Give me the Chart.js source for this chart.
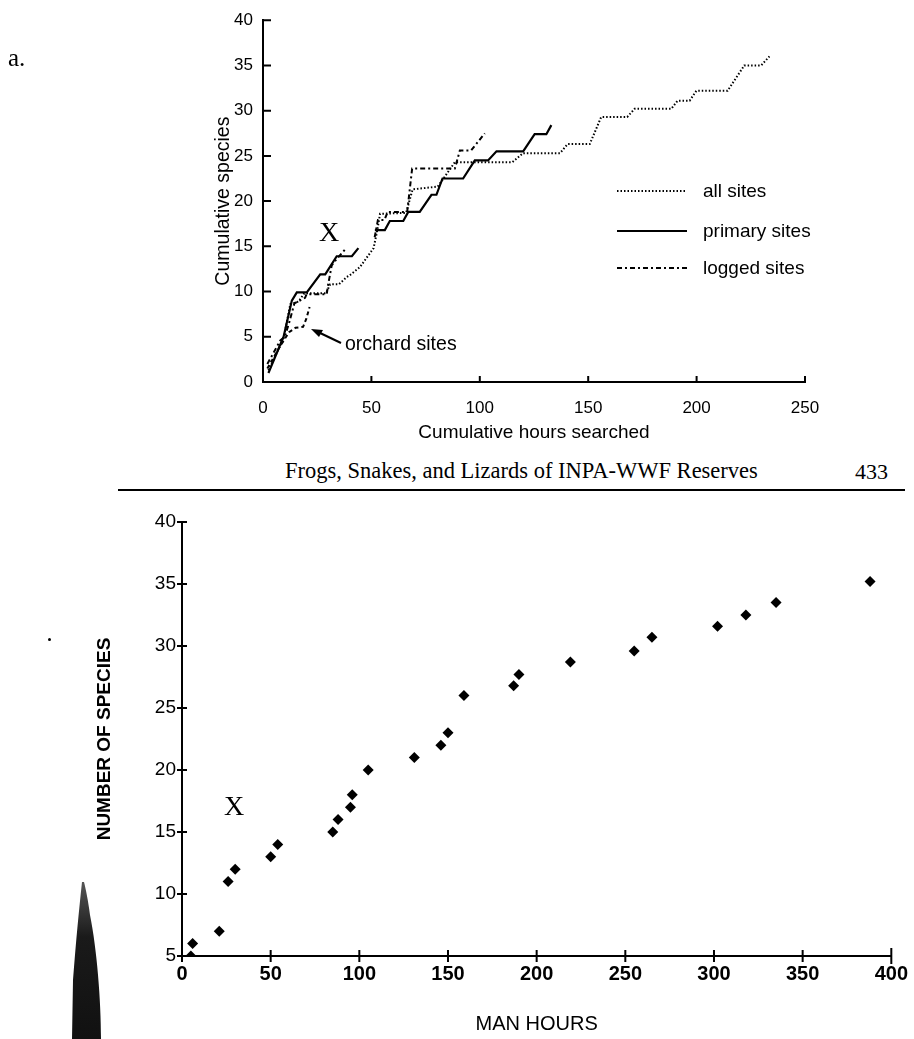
<!DOCTYPE html>
<html><head><meta charset="utf-8">
<script src="https://cdn.jsdelivr.net/npm/chart.js@4.4.1/dist/chart.umd.min.js"></script>
<style>
html,body{margin:0;padding:0;background:#fff;}
body{width:914px;height:1039px;position:relative;overflow:hidden;font-family:"Liberation Sans",Arial,sans-serif;color:#000;}
.abs{position:absolute;white-space:nowrap;line-height:1;}
.serif{font-family:"Liberation Serif","Times New Roman",serif;}
#c1{position:absolute;left:0;top:0;}
#c2{position:absolute;left:0;top:490px;}
</style></head><body>
<canvas id="c1" width="914" height="450"></canvas>
<canvas id="c2" width="914" height="549"></canvas>

<div class="abs serif" style="left:8px;top:45px;font-size:25px;">a.</div>
<div class="abs serif" style="left:319px;top:218px;font-size:28px;">X</div>
<div class="abs" style="left:345px;top:334px;font-size:19.5px;">orchard sites</div>
<svg class="abs" style="left:0;top:0;" width="914" height="450">
  <line x1="341" y1="343" x2="318" y2="332" stroke="#000" stroke-width="2"/>
  <polygon points="311,329 323,330 319,337" fill="#000"/>
  <line x1="617" y1="191" x2="687" y2="191" stroke="#000" stroke-width="2" stroke-dasharray="1.5,2"/>
  <line x1="617" y1="231" x2="687" y2="231" stroke="#000" stroke-width="2"/>
  <line x1="617" y1="268" x2="687" y2="268" stroke="#000" stroke-width="2" stroke-dasharray="5,3,2,3"/>
</svg>
<div class="abs" style="left:703px;top:181px;font-size:19px;">all sites</div>
<div class="abs" style="left:703px;top:221px;font-size:19px;">primary sites</div>
<div class="abs" style="left:703px;top:258px;font-size:19px;">logged sites</div>

<div class="abs serif" style="left:285px;top:460px;font-size:22.5px;">Frogs, Snakes, and Lizards of INPA-WWF Reserves</div>
<div class="abs serif" style="left:855px;top:461px;font-size:22px;">433</div>
<div class="abs" style="left:118px;top:489px;width:787px;height:2px;background:#000;"></div>
<div class="abs" style="left:48px;top:638px;width:3px;height:3px;background:#000;border-radius:50%;"></div>
<div class="abs serif" style="left:224px;top:792px;font-size:28px;">X</div>
<svg class="abs" style="left:0;top:860px;" width="120" height="179">
  <defs><linearGradient id="sm" x1="0" y1="0" x2="0" y2="1">
    <stop offset="0" stop-color="#555"/><stop offset="0.35" stop-color="#1a1a1a"/><stop offset="1" stop-color="#111"/>
  </linearGradient></defs>
  <path d="M82,22 C79,50 76,80 73,120 L72,179 L101,179 C101,140 97,90 90,55 C88,40 86,30 84,22 Z" fill="url(#sm)"/>
</svg>

<script>
// ---------- data (top chart: a.) ----------
const topXTicks = [0, 50, 100, 150, 200, 250];
const topYTicks = [0, 5, 10, 15, 20, 25, 30, 35, 40];

const allHours   = [2.5, 9.5, 12.6, 16.4, 19, 29, 31, 35, 38.6, 40, 44.7, 51, 52.5, 54, 66, 69, 80.6, 88.5, 115, 120, 137, 140.5, 150.7, 156, 168, 171.4, 188.3, 191.2, 196.8, 199.9, 214.3, 222, 229.8, 233.6];
const allSpecies = [1.3, 4.8, 8.6, 8.9, 9.8, 9.8, 10.8, 10.8, 11.6, 11.8, 12.7, 14.8, 16.5, 18.6, 18.7, 21.3, 21.6, 24.3, 24.3, 25.3, 25.3, 26.3, 26.3, 29.3, 29.3, 30.2, 30.2, 31.1, 31.1, 32.2, 32.2, 35, 35, 36];

const primaryHours   = [2.5, 9.5, 13.3, 15.6, 20.2, 26.4, 28.7, 34, 41, 44, 47, 51.6, 56.2, 58.5, 64.7, 67, 72.3, 77.7, 80, 82.8, 92.3, 97.7, 103.8, 107.7, 120, 125.3, 130.7, 133];
const primarySpecies = [1, 5, 9, 9.9, 9.9, 11.9, 11.9, 13.9, 13.9, 14.8, null, 16.8, 16.8, 17.8, 17.8, 18.8, 18.8, 20.7, 20.7, 22.5, 22.5, 24.5, 24.5, 25.5, 25.5, 27.4, 27.4, 28.4];

const loggedHours   = [2, 5.5, 8, 10, 12, 14.5, 19.4, 20.1, 29.4, 30, 31.7, 34, 38, 45, 51.5, 53, 56, 57.5, 66.5, 68.8, 88.5, 90.8, 96, 102.3];
const loggedSpecies = [2, 3.5, 4.6, 5, 6.5, 8.7, 9.3, 9.7, 9.7, 10.7, 12.9, 13.6, 14.7, null, 16, 17.9, 17.9, 18.8, 18.8, 23.6, 23.6, 25.6, 25.6, 27.5];

const orchardHours   = [2, 8, 12, 15, 18.5, 20, 21.5];
const orchardSpecies = [1.5, 4, 5.5, 6, 6.1, 7, 8.3];

// ---------- data (bottom chart) ----------
const botXTicks = [0, 50, 100, 150, 200, 250, 300, 350, 400];
const botYTicks = [5, 10, 15, 20, 25, 30, 35, 40];
const manHours = [5, 6, 21, 26, 30, 50, 54, 85, 88, 95, 96, 105, 131, 146, 150, 159, 187, 190, 219, 255, 265, 302, 318, 335, 388];
const speciesCount = [5, 6, 7, 11, 12, 13, 14, 15, 16, 17, 18, 20, 21, 22, 23, 26, 26.8, 27.7, 28.7, 29.6, 30.7, 31.6, 32.5, 33.5, 35.2];

const pts = (xs, ys) => xs.map((x, i) => ({x: x, y: ys[i]}));

const tickMarks = {
  id: 'tickMarks',
  afterDatasetsDraw(chart, args, o) {
    const ctx = chart.ctx, xs = chart.scales.x, ys = chart.scales.y, a = chart.chartArea;
    ctx.save(); ctx.strokeStyle = '#000'; ctx.lineWidth = o.lw;
    ctx.beginPath();
    xs.ticks.forEach((t, i) => {
      const p = xs.getPixelForValue(t.value);
      const extra = (i === xs.ticks.length - 1) ? o.lastExtra : 0;
      ctx.moveTo(p, a.bottom + o.xOut + extra); ctx.lineTo(p, a.bottom - o.xIn - extra);
    });
    ys.ticks.forEach(t => {
      const p = ys.getPixelForValue(t.value);
      ctx.moveTo(a.left - o.yOut, p); ctx.lineTo(a.left + o.yIn, p);
    });
    ctx.stroke(); ctx.restore();
  }
};

const font = "'Liberation Sans', Arial, sans-serif";

new Chart(document.getElementById('c1'), {
  type: 'line',
  data: { datasets: [
    {label: 'all sites', data: pts(allHours, allSpecies), borderColor: '#000', borderWidth: 2, borderDash: [1.5, 2], pointRadius: 0, tension: 0},
    {label: 'primary sites', data: pts(primaryHours, primarySpecies), borderColor: '#000', borderWidth: 2.2, pointRadius: 0, tension: 0},
    {label: 'logged sites', data: pts(loggedHours, loggedSpecies), borderColor: '#000', borderWidth: 2, borderDash: [5, 3, 2, 3], pointRadius: 0, tension: 0},
    {label: 'orchard sites', data: pts(orchardHours, orchardSpecies), borderColor: '#000', borderWidth: 2, borderDash: [4, 3], pointRadius: 0, tension: 0}
  ]},
  plugins: [tickMarks],
  options: {
    responsive: false, animation: false, devicePixelRatio: 1,
    layout: { padding: {left: 0, right: 109, top: 20, bottom: 0} },
    plugins: { legend: {display: false}, tooltip: {enabled: false},
      tickMarks: {lw: 2, xOut: 0, xIn: 6, yOut: 0, yIn: 8, lastExtra: 0} },
    scales: {
      x: { type: 'linear', min: 0, max: 250,
        afterBuildTicks: s => { s.ticks = topXTicks.map(v => ({value: v})); },
        afterFit: s => { s.height = 68; },
        grid: {display: false, drawTicks: false},
        border: {display: true, color: '#000', width: 2},
        ticks: {color: '#000', padding: 16, maxRotation: 0, font: {family: font, size: 17}},
        title: {display: true, text: 'Cumulative hours searched', color: '#000', font: {family: font, size: 19}, padding: {top: 0, bottom: 6}} },
      y: { type: 'linear', min: 0, max: 40,
        afterBuildTicks: s => { s.ticks = topYTicks.map(v => ({value: v})); },
        afterFit: s => { s.width = 263; },
        grid: {display: false, drawTicks: false},
        border: {display: true, color: '#000', width: 2},
        ticks: {color: '#000', padding: 10, font: {family: font, size: 17}},
        title: {display: true, text: 'Cumulative species', color: '#000', font: {family: font, size: 19.5}, padding: {top: 212, bottom: 0}} }
    }
  }
});

new Chart(document.getElementById('c2'), {
  type: 'scatter',
  data: { datasets: [
    {label: 'species', data: pts(manHours, speciesCount), backgroundColor: '#000', borderColor: '#000', borderWidth: 0, pointStyle: 'rectRot', pointRadius: 5.5}
  ]},
  plugins: [tickMarks],
  options: {
    responsive: false, animation: false, devicePixelRatio: 1,
    layout: { padding: {left: 0, right: 19, top: 32, bottom: 0} },
    plugins: { legend: {display: false}, tooltip: {enabled: false},
      tickMarks: {lw: 2, xOut: 6, xIn: 6, yOut: 5, yIn: 5, lastExtra: 2} },
    scales: {
      x: { type: 'linear', min: 0, max: 400,
        afterBuildTicks: s => { s.ticks = botXTicks.map(v => ({value: v})); },
        afterFit: s => { s.height = 83; },
        grid: {display: false, drawTicks: false},
        border: {display: true, color: '#000', width: 2},
        ticks: {color: '#000', padding: 6, maxRotation: 0, font: {family: font, size: 20, weight: 'bold'}},
        title: {display: true, text: 'MAN HOURS', color: '#000', font: {family: font, size: 20}, padding: {top: 0, bottom: 3}} },
      y: { type: 'linear', min: 5, max: 40,
        afterBuildTicks: s => { s.ticks = botYTicks.map(v => ({value: v})); },
        afterFit: s => { s.width = 182; },
        grid: {display: false, drawTicks: false},
        border: {display: true, color: '#000', width: 2},
        ticks: {color: '#000', padding: 6, font: {family: font, size: 19}},
        title: {display: true, text: 'NUMBER OF SPECIES', color: '#000', font: {family: font, size: 19, weight: 'bold'}, padding: {top: 93, bottom: 0}} }
    }
  }
});
</script>
</body></html>
